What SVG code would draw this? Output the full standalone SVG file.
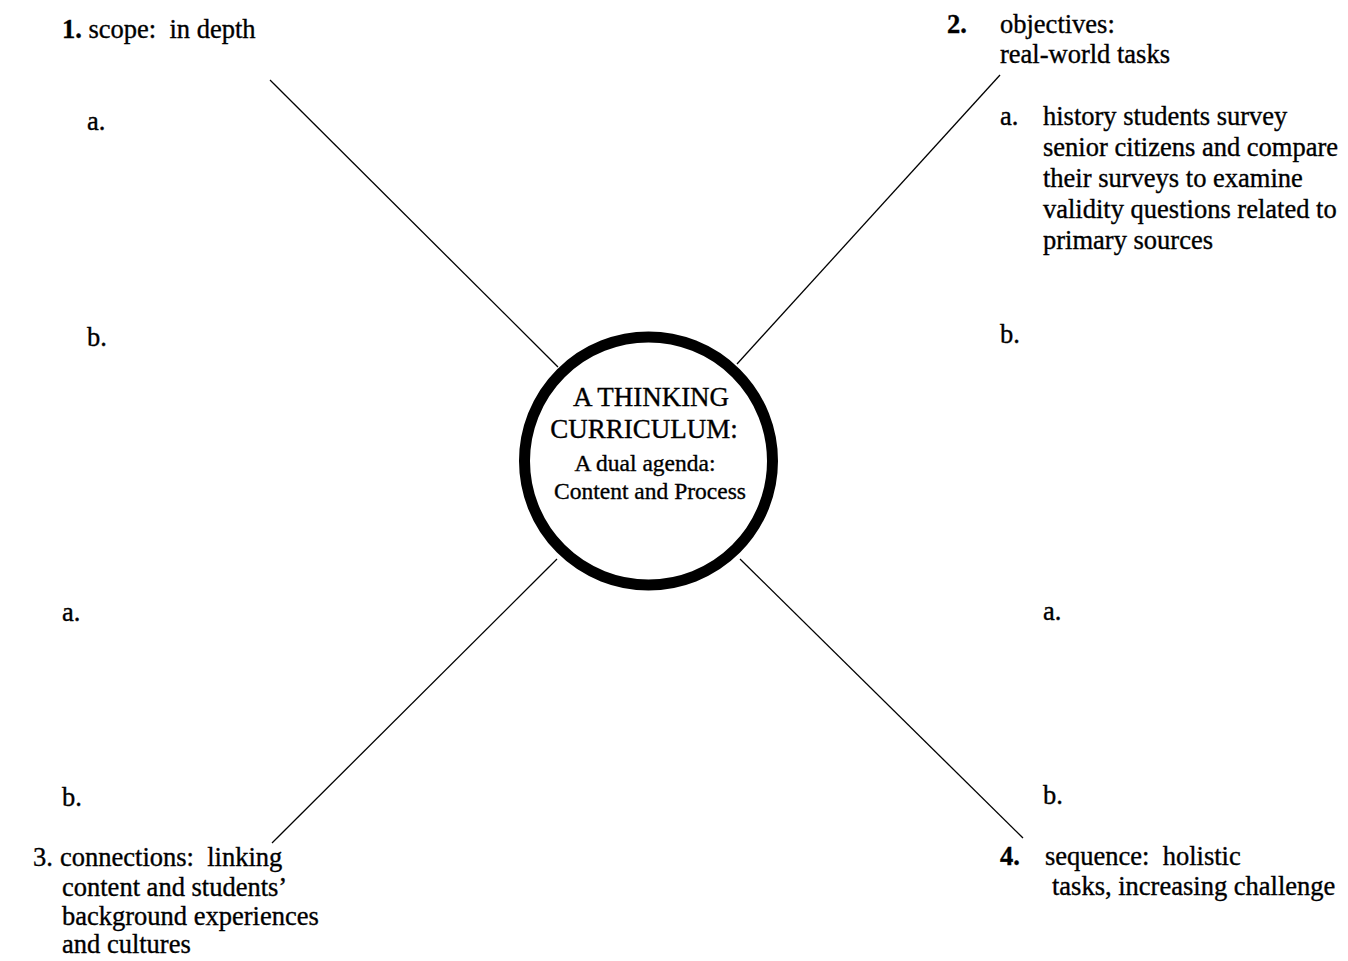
<svg xmlns="http://www.w3.org/2000/svg" width="1348" height="961" viewBox="0 0 1348 961">
<style>
text{font-family:"Liberation Serif","Times New Roman",serif;fill:#000;stroke:#000;stroke-width:0.35;font-size:26.5px;white-space:pre}
.n{font-weight:bold}
.c{text-anchor:middle;font-size:27px}
.s{text-anchor:middle;font-size:23.5px}
.ln{stroke:#000;stroke-width:1.3;fill:none}
</style>
<rect width="1348" height="961" fill="#fff"/>
<g id="connectors">
<line class="ln" x1="270" y1="80" x2="558" y2="367"/>
<line class="ln" x1="1000" y1="75" x2="737" y2="364"/>
<line class="ln" x1="557" y1="559" x2="272" y2="843"/>
<line class="ln" x1="740" y1="559" x2="1023" y2="838"/>
</g>
<g id="center">
<circle cx="648.5" cy="461" r="124" fill="#fff" stroke="#000" stroke-width="11"/>
<text class="c" x="651" y="406">A THINKING</text>
<text class="c" x="644" y="438">CURRICULUM:</text>
<text class="s" x="645" y="471">A dual agenda:</text>
<text class="s" x="650" y="499">Content and Process</text>
</g>
<g id="node1">
<text x="62" y="38" xml:space="preserve"><tspan class="n">1.</tspan> scope:  in depth</text>
<text x="87" y="130">a.</text>
<text x="87" y="346">b.</text>
</g>
<g id="node2">
<text class="n" x="947" y="33">2.</text>
<text x="1000" y="33">objectives:</text>
<text x="1000" y="63">real-world tasks</text>
<text x="1000" y="125">a.</text>
<text x="1043" y="125">history students survey</text>
<text x="1043" y="156">senior citizens and compare</text>
<text x="1043" y="187">their surveys to examine</text>
<text x="1043" y="218">validity questions related to</text>
<text x="1043" y="249">primary sources</text>
<text x="1000" y="343">b.</text>
</g>
<g id="node3">
<text x="62" y="621">a.</text>
<text x="62" y="806">b.</text>
<text x="33" y="866">3.</text>
<text x="60" y="866" xml:space="preserve">connections:  linking</text>
<text x="62" y="896">content and students’</text>
<text x="62" y="925">background experiences</text>
<text x="62" y="953">and cultures</text>
</g>
<g id="node4">
<text x="1043" y="620">a.</text>
<text x="1043" y="804">b.</text>
<text class="n" x="1000" y="865">4.</text>
<text x="1045" y="865" xml:space="preserve">sequence:  holistic</text>
<text x="1052" y="895">tasks, increasing challenge</text>
</g>
</svg>
